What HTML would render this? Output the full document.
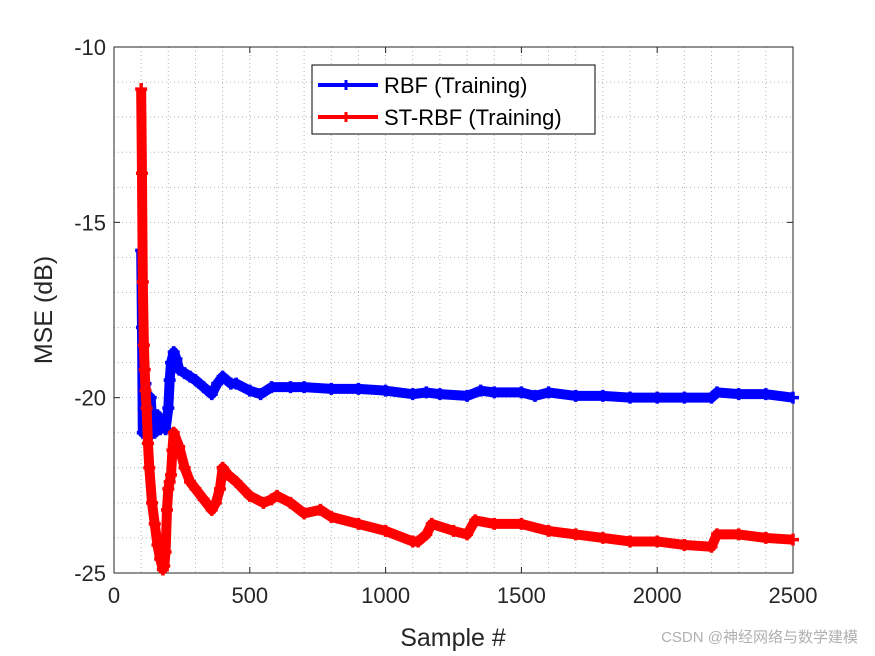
<!DOCTYPE html>
<html><head><meta charset="utf-8"><style>
body{margin:0;background:#fff;}
svg{display:block;font-family:"Liberation Sans",Arial,sans-serif;}
</style></head><body>
<svg id="chart" width="875" height="656">
<rect x="0" y="0" width="875" height="656" fill="#fff"/>
<g id="grid"></g>
<g id="axes"></g>
<g id="series"></g>
<text x="453" y="646" font-size="25" text-anchor="middle" fill="#262626">Sample #</text>
<text transform="translate(52,310) rotate(-90)" font-size="25" text-anchor="middle" fill="#262626">MSE (dB)</text>
<g>
<rect x="312" y="65" width="283" height="69" fill="#fff" stroke="#000" stroke-width="1"/>
<g>
<line x1="318" y1="85" x2="378" y2="85" stroke="#0000ff" stroke-width="4"/>
<path d="M342,85h8M346,80v10" stroke="#0000ff" stroke-width="3"/>
<text x="384" y="93" font-size="22" fill="#000">RBF (Training)</text></g>
<g>
<line x1="318" y1="117" x2="378" y2="117" stroke="#ff0000" stroke-width="4"/>
<path d="M342,117h8M346,112v10" stroke="#ff0000" stroke-width="3"/>
<text x="384" y="125" font-size="22" fill="#000">ST-RBF (Training)</text></g>
</g>
<text x="858" y="642" font-size="15" text-anchor="end" fill="#b0b0b0" font-family="Liberation Sans, Noto Sans CJK SC, sans-serif">CSDN @神经网络与数学建模</text>
</svg>
<script>
const xTicks=[0,500,1000,1500,2000,2500];
const yTicks=[-10,-15,-20,-25];
const rbfX=[100,103,106,110,113,116,120,125,130,135,140,145,150,160,170,180,190,200,205,210,220,230,240,260,280,300,330,360,380,400,430,450,500,540,580,650,700,800,900,1000,1100,1150,1200,1300,1350,1400,1500,1550,1600,1700,1800,1900,2000,2100,2200,2220,2300,2400,2500];
const rbfY=[-15.8,-18,-21,-19.5,-20.8,-19.6,-20.5,-20.3,-21.1,-20.0,-20.6,-20.9,-21.0,-20.5,-20.9,-20.7,-20.9,-20.3,-19.5,-19.0,-18.7,-18.9,-19.2,-19.3,-19.4,-19.5,-19.7,-19.9,-19.6,-19.4,-19.6,-19.6,-19.8,-19.9,-19.7,-19.7,-19.7,-19.75,-19.75,-19.8,-19.9,-19.85,-19.9,-19.95,-19.8,-19.85,-19.85,-19.95,-19.85,-19.95,-19.95,-20.0,-20.0,-20.0,-20.0,-19.85,-19.9,-19.9,-20.0];
const stX=[100,103,106,110,113,116,120,125,130,140,150,160,170,180,185,190,195,200,205,210,215,220,240,260,280,300,330,360,375,390,400,420,450,500,550,580,600,650,700,760,800,900,1000,1100,1120,1150,1170,1250,1300,1330,1400,1500,1600,1700,1800,1900,2000,2100,2200,2220,2300,2400,2500];
const stY=[-11.2,-13.6,-16.7,-18.5,-19.2,-19.8,-20.3,-21.3,-22.0,-23.0,-23.6,-24.2,-24.6,-24.9,-24.8,-24.4,-23.2,-22.6,-22.4,-22.2,-21.5,-21.0,-21.4,-22.0,-22.4,-22.6,-22.9,-23.2,-23.0,-22.6,-22.0,-22.2,-22.4,-22.8,-23.0,-22.9,-22.8,-23.0,-23.3,-23.2,-23.4,-23.6,-23.8,-24.1,-24.1,-23.9,-23.6,-23.8,-23.9,-23.5,-23.6,-23.6,-23.8,-23.9,-24.0,-24.1,-24.1,-24.2,-24.25,-23.9,-23.9,-24.0,-24.05];
const L=114,R=793,T=47,B=573;
const xs=v=>L+(v-0)/2500*(R-L);
const ys=v=>T+(-10-v)/15*(B-T);
const NS='http://www.w3.org/2000/svg';
function mk(tag,attrs,parent){const e=document.createElementNS(NS,tag);for(const k in attrs)e.setAttribute(k,attrs[k]);parent.appendChild(e);return e;}
const grid=document.getElementById('grid'),axes=document.getElementById('axes'),ser=document.getElementById('series');
for(let v=100;v<2500;v+=100){const l=mk('line',{x1:xs(v),x2:xs(v),y1:T,y2:B,stroke:'#b4b4b4','stroke-width':1,'stroke-dasharray':'1,3'},grid);

}
for(let v=-11;v>-25;v--){const l=mk('line',{x1:L,x2:R,y1:ys(v),y2:ys(v),stroke:'#b4b4b4','stroke-width':1,'stroke-dasharray':'1,3'},grid);

}
const box=mk('rect',{x:L,y:T,width:R-L,height:B-T,fill:'none',stroke:'#262626','stroke-width':1},axes);


xTicks.forEach(v=>{const x=xs(v);mk('line',{x1:x,x2:x,y1:B,y2:B-6,stroke:'#262626'},axes);mk('line',{x1:x,x2:x,y1:T,y2:T+6,stroke:'#262626'},axes);
const t=mk('text',{x:x,y:B+30,'font-size':22,'text-anchor':'middle',fill:'#262626'},axes);t.textContent=v;

});
yTicks.forEach(v=>{const y=ys(v);mk('line',{x1:L,x2:L+6,y1:y,y2:y,stroke:'#262626'},axes);mk('line',{x1:R,x2:R-6,y1:y,y2:y,stroke:'#262626'},axes);
const t=mk('text',{x:L-8,y:y+8,'font-size':22,'text-anchor':'end',fill:'#262626'},axes);t.textContent=v;

});
function draw(X,Y,color,name){const g=mk('g',{},ser);


const pts=X.map((x,i)=>xs(x)+','+ys(Y[i])).join(' ');
mk('polyline',{points:pts,fill:'none',stroke:color,'stroke-width':10,'stroke-linejoin':'round'},g);
let d='';X.forEach((x,i)=>{const px=xs(x),py=ys(Y[i]);d+=`M${px-6},${py}h12M${px},${py-6}v12`;});
mk('path',{d:d,stroke:color,'stroke-width':3.5},g);}
draw(rbfX,rbfY,'#0000ff','series-rbf');
draw(stX,stY,'#ff0000','series-st-rbf');
</script>
</body></html>
